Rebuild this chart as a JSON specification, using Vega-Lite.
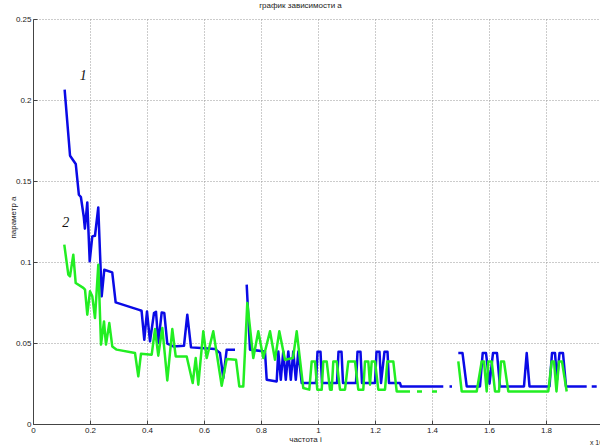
{
  "$schema": "https://vega.github.io/schema/vega-lite/v6.json",
  "autosize": {"type": "none"},
  "width": 567,
  "height": 405,
  "padding": {"left": 33, "top": 19, "right": 0, "bottom": 21},
  "background": "white",
  "config": {"view": {"stroke": null}},
  "title": {"text": "график зависимости а", "fontSize": 8, "font": "Liberation Sans", "fontWeight": "normal", "color": "#222", "offset": 5, "dx": -16},
  "datasets": {
    "blue": [
      {"x":0.111,"y":0.2064},{"x":0.130,"y":0.1656},{"x":0.150,"y":0.1605},{"x":0.161,"y":0.1415},{"x":0.168,"y":0.1401},
      {"x":0.178,"y":0.1281},{"x":0.182,"y":0.1206},{"x":0.1905,"y":0.1368},{"x":0.199,"y":0.1004},{"x":0.208,"y":0.1158},
      {"x":0.2175,"y":0.1162},{"x":0.229,"y":0.1337},{"x":0.241,"y":0.0788},{"x":0.250,"y":0.0952},{"x":0.278,"y":0.0936},
      {"x":0.290,"y":0.0751},{"x":0.3695,"y":0.0706},{"x":0.381,"y":0.0699},{"x":0.3905,"y":0.0520},{"x":0.400,"y":0.0695},
      {"x":0.4105,"y":0.0510},{"x":0.4246,"y":0.0685},{"x":0.4316,"y":0.0693},{"x":0.4396,"y":0.0500},{"x":0.4516,"y":0.0689},
      {"x":0.4607,"y":0.0685},{"x":0.4712,"y":0.0496},{"x":0.4923,"y":0.0479},{"x":0.5298,"y":0.0483},{"x":0.5414,"y":0.0675},
      {"x":0.5544,"y":0.0473},{"x":0.5884,"y":0.0469},{"x":0.6386,"y":0.0463},{"x":0.6561,"y":0.0438},{"x":0.6677,"y":0.0284},
      {"x":0.6796,"y":0.0459},{"x":0.7088,"y":0.0459},{"x":0.73,"y":null},{"x":0.7498,"y":0.0860},{"x":0.7614,"y":0.0459},
      {"x":0.814,"y":0.0448},{"x":0.820,"y":0.0273},{"x":0.855,"y":0.0263},{"x":0.8607,"y":0.0448},{"x":0.8695,"y":0.0273},
      {"x":0.8782,"y":0.0448},{"x":0.887,"y":0.0273},{"x":0.8958,"y":0.0448},{"x":0.9046,"y":0.0273},{"x":0.9133,"y":0.0448},
      {"x":0.9221,"y":0.0273},{"x":0.9309,"y":0.0448},{"x":0.9428,"y":0.0253},{"x":0.9930,"y":0.0253},{"x":0.9982,"y":0.0446},
      {"x":1.0088,"y":0.0446},{"x":1.0140,"y":0.0253},{"x":1.0667,"y":0.0253},{"x":1.0719,"y":0.0446},{"x":1.0825,"y":0.0446},
      {"x":1.0877,"y":0.0253},{"x":1.1333,"y":0.0253},{"x":1.1386,"y":0.0446},{"x":1.1491,"y":0.0446},{"x":1.1544,"y":0.0253},
      {"x":1.2,"y":0.0253},{"x":1.2053,"y":0.0446},{"x":1.2158,"y":0.0446},{"x":1.2211,"y":0.0253},{"x":1.2333,"y":0.0446},
      {"x":1.2439,"y":0.0446},{"x":1.2491,"y":0.0253},{"x":1.2877,"y":0.0253},{"x":1.2912,"y":0.0232},{"x":1.4396,"y":0.0232},
      {"x":1.45,"y":null},{"x":1.4614,"y":0.0232},{"x":1.4702,"y":0.0232},{"x":1.48,"y":null},{"x":1.4923,"y":0.0438},
      {"x":1.507,"y":0.0438},{"x":1.5218,"y":0.0232},{"x":1.5684,"y":0.0232},{"x":1.5779,"y":0.0438},{"x":1.5895,"y":0.0438},
      {"x":1.6018,"y":0.0249},{"x":1.614,"y":0.0438},{"x":1.628,"y":0.0438},{"x":1.6386,"y":0.0232},{"x":1.7228,"y":0.0232},
      {"x":1.7323,"y":0.0438},{"x":1.7421,"y":0.0232},{"x":1.8123,"y":0.0232},{"x":1.8211,"y":0.0438},{"x":1.8316,"y":0.0438},
      {"x":1.8386,"y":0.0273},{"x":1.8474,"y":0.0438},{"x":1.8596,"y":0.0438},{"x":1.8702,"y":0.0232},{"x":1.9428,"y":0.0232},
      {"x":1.95,"y":null},{"x":1.9604,"y":0.0232},{"x":1.9779,"y":0.0232}
    ],
    "green": [
      {"x":0.1098,"y":0.1107},{"x":0.1239,"y":0.0922},{"x":0.1298,"y":0.0911},{"x":0.1414,"y":0.1045},{"x":0.1498,"y":0.0870},
      {"x":0.1765,"y":0.0840},{"x":0.1825,"y":0.0829},{"x":0.1905,"y":0.0675},{"x":0.2,"y":0.0819},{"x":0.2081,"y":0.0788},
      {"x":0.2175,"y":0.0654},{"x":0.2291,"y":0.0983},{"x":0.2386,"y":0.0490},{"x":0.2491,"y":0.0633},{"x":0.2561,"y":0.0490},
      {"x":0.2677,"y":0.0623},{"x":0.2782,"y":0.0479},{"x":0.2937,"y":0.0459},{"x":0.3579,"y":0.0438},{"x":0.3695,"y":0.0294},
      {"x":0.3789,"y":0.0434},{"x":0.4165,"y":0.0428},{"x":0.4281,"y":0.0586},{"x":0.4396,"y":0.0422},{"x":0.4537,"y":0.0593},
      {"x":0.4712,"y":0.0269},{"x":0.4888,"y":0.0586},{"x":0.5007,"y":0.0417},{"x":0.5393,"y":0.0417},{"x":0.5604,"y":0.0253},
      {"x":0.5709,"y":0.0407},{"x":0.58,"y":0.0243},{"x":0.5975,"y":0.0572},{"x":0.6095,"y":0.0407},{"x":0.6326,"y":0.0572},
      {"x":0.6621,"y":0.0236},{"x":0.6796,"y":0.0401},{"x":0.7123,"y":0.0397},{"x":0.7239,"y":0.0232},{"x":0.7379,"y":0.0232},
      {"x":0.7519,"y":0.0747},{"x":0.773,"y":0.0407},{"x":0.7905,"y":0.0572},{"x":0.8081,"y":0.0407},{"x":0.8316,"y":0.0572},
      {"x":0.8491,"y":0.0397},{"x":0.8642,"y":0.0572},{"x":0.8842,"y":0.0397},{"x":0.9123,"y":0.0407},{"x":0.9253,"y":0.0572},
      {"x":0.9484,"y":0.0222},{"x":0.9695,"y":0.0212},{"x":0.9779,"y":0.0386},{"x":0.9895,"y":0.0386},{"x":0.9975,"y":0.0212},
      {"x":1.0130,"y":0.0212},{"x":1.0186,"y":0.0386},{"x":1.0305,"y":0.0386},{"x":1.0421,"y":0.0212},{"x":1.0481,"y":0.0212},
      {"x":1.0537,"y":0.0386},{"x":1.0656,"y":0.0386},{"x":1.0772,"y":0.0212},{"x":1.0947,"y":0.0212},{"x":1.1063,"y":0.0386},
      {"x":1.1298,"y":0.0386},{"x":1.1414,"y":0.0212},{"x":1.1589,"y":0.0212},{"x":1.1649,"y":0.0386},{"x":1.1765,"y":0.0386},
      {"x":1.1825,"y":0.0243},{"x":1.1884,"y":0.0386},{"x":1.2,"y":0.0386},{"x":1.2116,"y":0.0212},{"x":1.2351,"y":0.0212},
      {"x":1.2432,"y":0.0386},{"x":1.2642,"y":0.0386},{"x":1.2761,"y":0.0201},{"x":1.3228,"y":0.0201},{"x":1.335,"y":null},
      {"x":1.3474,"y":0.0201},{"x":1.3649,"y":0.0201},{"x":1.38,"y":null},{"x":1.4,"y":0.0201},{"x":1.4175,"y":0.0201},
      {"x":1.45,"y":null},{"x":1.4923,"y":0.0386},{"x":1.5042,"y":0.0201},{"x":1.5568,"y":0.0201},{"x":1.5744,"y":0.0386},
      {"x":1.5825,"y":0.0386},{"x":1.5919,"y":0.0201},{"x":1.5975,"y":0.0386},{"x":1.6095,"y":0.0386},{"x":1.6211,"y":0.0201},
      {"x":1.6351,"y":0.0201},{"x":1.6421,"y":0.0386},{"x":1.6526,"y":0.0386},{"x":1.6677,"y":0.0201},{"x":1.8081,"y":0.0201},
      {"x":1.8200,"y":0.0386},{"x":1.8281,"y":0.0386},{"x":1.8368,"y":0.0201},{"x":1.8456,"y":0.0386},{"x":1.8561,"y":0.0386},
      {"x":1.8726,"y":0.0201}
    ],
    "labels": [
      {"x":0.1765,"y":0.2146,"t":"1"},
      {"x":0.1147,"y":0.1241,"t":"2"}
    ],
    "exp": [
      {"x":1.954,"y":-0.0115,"t":"x 10"}
    ]
  },
  "encoding": {
    "x": {
      "field": "x", "type": "quantitative",
      "scale": {"domain": [0, 1.98947], "nice": false, "zero": false},
      "axis": {
        "values": [0, 0.2, 0.4, 0.6, 0.8, 1, 1.2, 1.4, 1.6, 1.8],
        "format": "~g", "grid": true, "gridDash": [1, 2], "gridColor": "#999999", "gridOpacity": 1,
        "domainColor": "#444444", "tickColor": "#444444", "tickSize": -4, "labelPadding": 6,
        "labelFontSize": 8, "labelFont": "Liberation Sans", "labelColor": "#222222", "labelFlush": false, "labelOverlap": false,
        "title": "частота i", "titleFontSize": 8, "titleFontWeight": "normal", "titleFont": "Liberation Sans", "titleColor": "#222222",
        "titleX": 272, "titleY": 15, "titleBaseline": "middle", "titleAlign": "center"
      }
    },
    "y": {
      "field": "y", "type": "quantitative",
      "scale": {"domain": [0, 0.25], "nice": false, "zero": false},
      "axis": {
        "values": [0, 0.05, 0.1, 0.15, 0.2, 0.25],
        "format": "~g", "grid": true, "gridDash": [1, 2], "gridColor": "#999999", "gridOpacity": 1,
        "domainColor": "#444444", "tickColor": "#444444", "tickSize": -4, "labelPadding": 6,
        "labelFontSize": 8, "labelFont": "Liberation Sans", "labelColor": "#222222", "labelFlush": false, "labelOverlap": false,
        "title": "параметр а", "titleFontSize": 8, "titleFontWeight": "normal", "titleFont": "Liberation Sans", "titleColor": "#222222",
        "titleX": -20, "titleY": 198, "titleBaseline": "middle", "titleAlign": "center"
      }
    }
  },
  "layer": [
    {
      "data": {"name": "blue"},
      "mark": {"type": "line", "color": "#0a0ae6", "strokeWidth": 2.5, "strokeJoin": "round", "invalid": "break-paths-show-domains"}
    },
    {
      "data": {"name": "green"},
      "mark": {"type": "line", "color": "#22ee22", "strokeWidth": 2.5, "strokeJoin": "round", "invalid": "break-paths-show-domains"}
    },
    {
      "data": {"name": "labels"},
      "mark": {"type": "text", "font": "Liberation Serif", "fontStyle": "italic", "fontSize": 14, "color": "#111111", "align": "center", "baseline": "middle"},
      "encoding": {"text": {"field": "t"}}
    },
    {
      "data": {"name": "exp"},
      "mark": {"type": "text", "font": "Liberation Sans", "fontSize": 7, "color": "#222222", "align": "left", "baseline": "middle"},
      "encoding": {"text": {"field": "t"}}
    }
  ]
}
